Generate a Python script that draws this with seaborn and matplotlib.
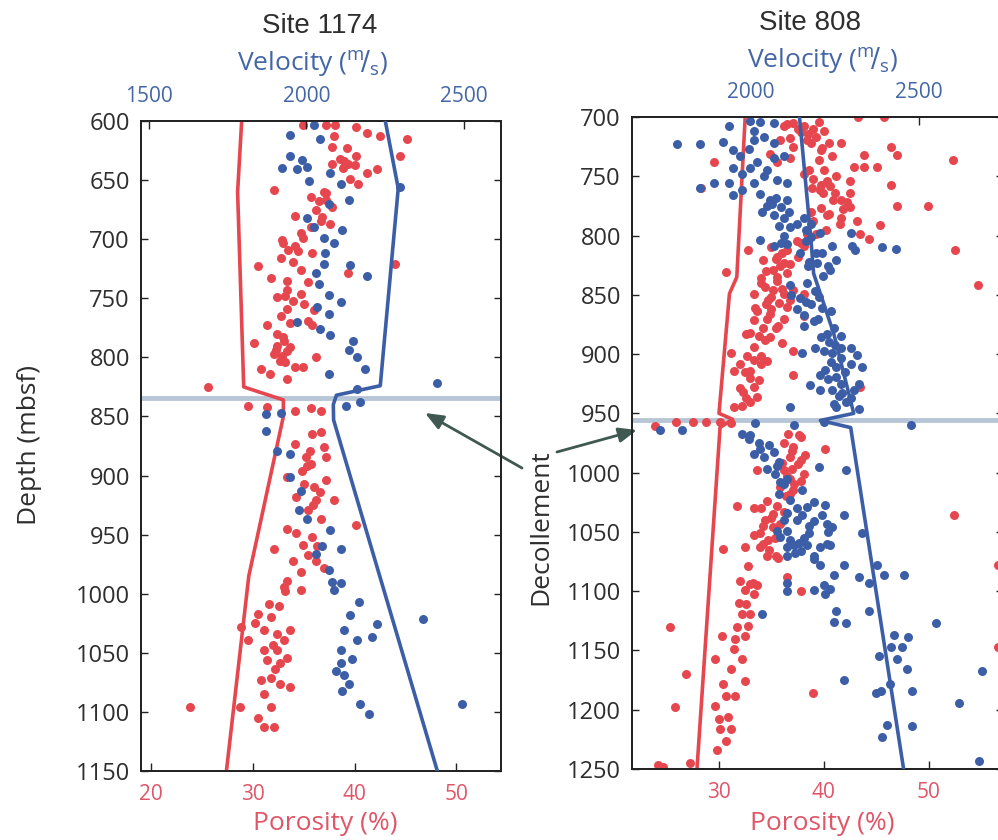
import matplotlib
matplotlib.use("Agg")
import matplotlib.pyplot as plt
import seaborn as sns
import pandas as pd

# ---------------- data ----------------
# Site 1174 porosity samples (depth mbsf, porosity %)
site1174_porosity = [
    (603, 34.9), (603, 37.2), (603, 38.1), (605, 40.1), (610, 41.2), (613, 42.5), (615, 45.2), (613, 38.0),
    (622, 37.8), (623, 39.3), (630, 40.1), (630, 44.5), (636, 37.8), (636, 39.4), (641, 42.2), (644, 41.2),
    (649, 39.6), (653, 40.3), (658, 32.1), (661, 37.2), (664, 35.7), (667, 37.2), (673, 37.8), (680, 34.1),
    (681, 36.8), (690, 35.7), (685, 36.7), (687, 37.6), (695, 34.7), (701, 32.9), (706, 34.1), (699, 34.9),
    (712, 35.8), (719, 33.9), (723, 30.5), (726, 34.7), (733, 31.8), (735, 33.4), (736, 35.4), (721, 44.0),
    (729, 39.4), (743, 33.4), (746, 34.7), (749, 32.4), (755, 35.0), (759, 33.4), (760, 36.0), (773, 31.4),
    (771, 33.7), (769, 35.4), (773, 35.8), (780, 32.4), (786, 33.1), (790, 32.4), (791, 33.7), (788, 30.1),
    (800, 36.2), (797, 32.1), (803, 32.7), (810, 30.8), (814, 31.7), (808, 34.1), (808, 34.9), (818, 33.4),
    (825, 25.6), (841, 29.5), (842, 31.4), (845, 34.1), (843, 35.7), (845, 36.7), (632, 38.6), (640, 38.9),
    (675, 36.2), (710, 34.4), (752, 33.9), (783, 33.0), (795, 33.4), (634, 39.0), (637, 40.0), (703, 33.0),
    (709, 33.5), (716, 32.8), (794, 32.3), (799, 32.9), (804, 33.2), (660, 37.0), (668, 36.5), (748, 33.2),
    (765, 32.8),
    (865, 35.8), (863, 36.7), (873, 34.1), (879, 35.6), (876, 37.0), (884, 35.2), (890, 35.7), (884, 37.2),
    (896, 34.8), (901, 33.4), (904, 37.2), (910, 36.0), (907, 35.0), (914, 36.6), (921, 38.0), (918, 34.2),
    (921, 36.2), (929, 35.4), (937, 36.7), (942, 40.1), (945, 33.4), (949, 34.2), (952, 35.8), (959, 34.9),
    (962, 32.1), (960, 36.3), (967, 35.4), (972, 33.9), (972, 36.2), (978, 37.0), (982, 34.7), (989, 33.4),
    (994, 33.1), (997, 34.7), (1009, 31.6), (1010, 32.6), (1017, 30.5), (1020, 31.8), (1025, 30.2),
    (1028, 28.8), (1031, 31.1), (1034, 32.4), (1031, 33.7), (1039, 29.5), (1039, 33.1), (1048, 31.1),
    (1048, 32.4), (1054, 33.4), (1056, 31.4), (1059, 32.7), (1071, 31.8), (1073, 30.8), (1076, 32.7),
    (1079, 33.7), (1085, 31.1), (1096, 31.8), (1096, 23.8), (1096, 28.7), (1105, 30.5), (1113, 31.1),
    (1113, 32.1), (892, 35.3), (925, 35.9), (998, 33.2), (1043, 32.0), (1064, 32.2),
]
# Site 1174 velocity samples (depth mbsf, velocity m/s)
site1174_velocity = [
    (603, 2023), (612, 1947), (615, 2042), (630, 1949), (633, 1986), (640, 1923), (641, 1970), (639, 2002),
    (644, 2076), (651, 2009), (653, 2110), (656, 2298), (667, 2134), (670, 2071), (682, 2002), (690, 2023),
    (692, 2113), (699, 2055), (703, 2087), (712, 2060), (721, 2055), (722, 2137), (731, 2192), (729, 2029),
    (738, 2040), (747, 2071), (753, 2108), (757, 2034), (763, 2071), (770, 1970), (776, 2044), (781, 2076),
    (786, 2147), (794, 2134), (800, 2159), (810, 2187), (814, 2071), (822, 2414), (827, 2161), (838, 2171),
    (841, 2124), (848, 1870), (847, 1918),
    (862, 1870), (879, 1907), (882, 1949), (901, 1949), (913, 1981), (929, 1976), (937, 2002), (946, 2076),
    (962, 2108), (960, 2050), (966, 2029), (980, 2071), (990, 2081), (991, 2108), (997, 2087), (1007, 2166),
    (1018, 2139), (1021, 2371), (1031, 2118), (1026, 2224), (1039, 2161), (1037, 2208), (1048, 2108),
    (1055, 2145), (1059, 2108), (1065, 2092), (1069, 2118), (1076, 2134), (1082, 2113), (1093, 2171),
    (1102, 2197), (1093, 2493),
]
# Site 1174 trend lines
site1174_por_trend_depth = [600, 660, 825, 829, 836, 850, 985, 1150]
site1174_por_trend = [28.9, 28.5, 29.1, 30.5, 33.0, 33.0, 29.6, 27.4]
site1174_vel_trend_depth = [600, 657, 824, 832, 840, 853, 1150]
site1174_vel_trend = [2250, 2291, 2234, 2095, 2085, 2086, 2415]
site1174_decollement = 834

# Site 808 porosity samples
site808_porosity = [
    (700, 43.3), (700, 45.7), (708, 36.2), (705, 37.1), (708, 38.1), (710, 39.0), (717, 39.3), (719, 38.4),
    (722, 40.5), (722, 41.6), (728, 39.7), (725, 37.1), (719, 35.8), (735, 36.8), (725, 46.4), (732, 47.0),
    (732, 43.8), (736, 52.3), (738, 29.5), (736, 39.5), (733, 40.8), (731, 34.9), (738, 35.5), (742, 42.9),
    (742, 43.8), (742, 45.1), (757, 46.4), (748, 38.1), (752, 39.0), (757, 39.7), (754, 40.3), (764, 41.1),
    (754, 42.5), (764, 42.5), (775, 47.0), (775, 49.9), (760, 28.3), (776, 42.5), (770, 41.6), (777, 39.7),
    (782, 40.5), (785, 41.6), (788, 43.2), (799, 43.5), (791, 45.4), (803, 44.3), (788, 39.0), (799, 38.4),
    (799, 39.3), (805, 37.4), (809, 38.1), (812, 52.5), (842, 54.7), (812, 32.8), (812, 36.5), (818, 35.5),
    (821, 34.2), (823, 36.2), (829, 35.2), (832, 36.5), (831, 30.7), (838, 35.5), (843, 34.4), (846, 35.2),
    (849, 36.2), (849, 33.3), (846, 37.1), (854, 34.7), (857, 35.7), (854, 36.8), (849, 38.1), (861, 33.4),
    (866, 34.9), (871, 33.3), (870, 36.2), (868, 38.1), (878, 35.4), (878, 34.2), (883, 32.6), (888, 34.4),
    (891, 36.0), (894, 33.3), (899, 31.1), (897, 37.1), (908, 32.0), (905, 33.3), (906, 34.6), (914, 31.4),
    (914, 33.0), (918, 37.1), (929, 32.0), (928, 33.3), (928, 43.5), (937, 32.6), (936, 33.6), (945, 31.4),
    (944, 32.2), (713, 37.8), (745, 38.6), (762, 39.6), (780, 38.8), (795, 40.2), (826, 35.8), (836, 34.0),
    (862, 35.0), (885, 33.8), (902, 34.0), (920, 33.0),
    (706, 36.5), (710, 37.5), (714, 38.5), (704, 39.5), (712, 40.0), (718, 36.8), (722, 38.8), (726, 39.8),
    (745, 40.0), (750, 41.2), (758, 40.6), (764, 39.9), (770, 40.9), (778, 41.8), (783, 40.3), (790, 41.5),
    (772, 42.2), (760, 38.9), (810, 35.0), (815, 36.0), (820, 35.4), (824, 36.8), (818, 37.5), (806, 37.8),
    (830, 34.5), (835, 35.5), (840, 34.0), (845, 36.0), (852, 35.0), (858, 34.5), (864, 33.6), (870, 34.6),
    (876, 35.6), (882, 33.0), (886, 34.9), (860, 36.5), (902, 32.7), (908, 34.0), (915, 32.5), (922, 33.8),
    (932, 32.3), (940, 33.0),
    (961, 23.9), (957, 25.9), (957, 27.5), (957, 28.8), (957, 30.1), (958, 31.1), (967, 36.6), (968, 37.6),
    (975, 36.2), (978, 37.1), (985, 38.2), (980, 40.1), (987, 36.8), (989, 37.8), (998, 33.6), (998, 36.2),
    (997, 37.0), (1001, 38.1), (1005, 36.8), (1007, 37.8), (1012, 35.8), (1015, 37.1), (1028, 31.7),
    (1030, 33.3), (1024, 34.6), (1028, 35.5), (1035, 35.2), (1033, 36.2), (1040, 34.4), (1046, 35.2),
    (1051, 33.9), (1053, 33.3), (1057, 34.7), (1063, 33.9), (1063, 32.5), (1064, 30.4), (1070, 34.6),
    (1070, 35.4), (1088, 36.5), (1079, 32.8), (1091, 32.0), (1094, 33.0), (1095, 33.6), (1099, 32.5),
    (1102, 33.3), (1100, 37.8), (1110, 31.9), (1111, 32.6), (1119, 32.2), (1119, 33.0), (1130, 31.7),
    (1129, 32.8), (1130, 25.3), (1138, 30.3), (1140, 31.5), (1138, 32.5), (1149, 31.4), (1157, 32.2),
    (1157, 29.6), (1166, 31.1), (1170, 26.9), (1178, 30.4), (1176, 32.5), (1188, 30.7), (1188, 31.5),
    (1186, 39.0), (1198, 25.8), (1197, 29.6), (1208, 30.0), (1206, 30.9), (1216, 30.1), (1216, 31.1),
    (1226, 30.7), (1234, 29.8), (1245, 27.2), (1247, 24.2), (1248, 24.7), (1036, 52.4), (1078, 56.6),
    (1147, 56.6), (992, 36.0), (1020, 36.4), (1043, 35.8), (1060, 34.2), (1093, 33.2),
    (970, 37.8), (982, 37.0), (993, 37.5), (1003, 36.5), (1010, 37.2), (1018, 36.8), (1030, 34.0),
    (1038, 35.0), (1045, 34.2), (1055, 35.3), (1065, 34.8), (1072, 35.6),
]
# Site 808 velocity samples
site808_velocity = [
    (723, 1782), (723, 1851), (708, 1938), (721, 1918), (728, 1950), (733, 1970), (703, 2000), (704, 2030),
    (705, 2069), (717, 2040), (719, 2010), (722, 2069), (743, 1950), (748, 1975), (743, 2000), (756, 1936),
    (756, 1891), (760, 1851), (766, 1950), (762, 1975), (756, 2010), (765, 2030), (745, 2050), (735, 2069),
    (733, 2099), (753, 2079), (756, 2109), (770, 2109), (773, 2064), (780, 2035), (785, 2099), (780, 2114),
    (793, 2119), (785, 2159), (795, 2164), (801, 2179), (798, 2208), (804, 2030), (809, 2069), (807, 2109),
    (815, 2149), (815, 2213), (809, 2243), (798, 2298), (809, 2303), (812, 2312), (810, 2392), (811, 2432),
    (821, 2253), (829, 2238), (823, 2198), (847, 2193), (840, 2169), (842, 2119), (853, 2149), (852, 2203),
    (861, 2213), (867, 2159), (872, 2188), (878, 2248), (883, 2228), (885, 2268), (895, 2193), (897, 2218),
    (899, 2154), (899, 2243), (895, 2268), (895, 2298), (901, 2317), (911, 2332), (908, 2298), (911, 2253),
    (913, 2223), (918, 2208), (919, 2253), (925, 2268), (926, 2178), (930, 2208), (930, 2243), (933, 2273),
    (937, 2298), (942, 2248), (930, 2307), (925, 2322), (945, 2119), (945, 2253), (946, 2322), (712, 2012),
    (727, 1995), (738, 2020), (750, 2040), (768, 2075), (776, 2090), (790, 2140), (826, 2170), (834, 2215),
    (858, 2180), (864, 2240), (890, 2235),
    (775, 2050), (783, 2070), (792, 2085), (800, 2100), (806, 2090), (770, 2060), (790, 2180), (805, 2165),
    (815, 2195), (822, 2175), (826, 2230), (850, 2120), (856, 2165), (862, 2140), (870, 2200), (876, 2160),
    (886, 2210), (892, 2250), (903, 2270), (907, 2240), (915, 2280), (921, 2230), (935, 2262), (940, 2285),
    (964, 1732), (964, 1797), (958, 2015), (960, 2129), (957, 2218), (960, 2476), (967, 1975), (968, 2000),
    (975, 2025), (977, 2055), (984, 2010), (987, 2040), (983, 2069), (991, 2084), (997, 2050), (1001, 2074),
    (995, 2203), (998, 2283), (1008, 2089), (1005, 2109), (1015, 2154), (1018, 2084), (1023, 2119),
    (1025, 2188), (1029, 2168), (1027, 2223), (1036, 2154), (1036, 2213), (1036, 2278), (1034, 2109),
    (1040, 2099), (1040, 2139), (1041, 2188), (1043, 2228), (1046, 2243), (1049, 2079), (1049, 2109),
    (1051, 2173), (1051, 2332), (1054, 2089), (1057, 2119), (1059, 2144), (1060, 2228), (1063, 2109),
    (1061, 2129), (1061, 2168), (1063, 2208), (1061, 2238), (1070, 2109), (1068, 2134), (1070, 2188),
    (1078, 2208), (1078, 2278), (1078, 2377), (1088, 2322), (1086, 2397), (1086, 2456), (1086, 2248),
    (1093, 2109), (1093, 2352), (1099, 2188), (1095, 2218), (1098, 2238), (1100, 2109), (1102, 2223),
    (1119, 2035), (1117, 2253), (1117, 2352), (1126, 2248), (1127, 2283), (1127, 2551), (1137, 2427),
    (1139, 2467), (1147, 2417), (1147, 2451), (1155, 2382), (1157, 2436), (1166, 2466), (1167, 2689),
    (1175, 2278), (1178, 2416), (1186, 2372), (1184, 2387), (1184, 2481), (1194, 2620), (1213, 2406),
    (1214, 2481), (1223, 2392), (1243, 2680),
    (972, 1995), (980, 2030), (994, 2080), (1010, 2100), (1030, 2140), (1045, 2175), (1055, 2160),
    (1066, 2150), (1073, 2190), (1050, 2230),
]
site808_por_trend_depth = [700, 835, 849, 950, 955, 962, 1250]
site808_por_trend = [32.5, 31.7, 31.0, 30.0, 31.3, 30.1, 27.9]
site808_vel_trend_depth = [700, 800, 832, 883, 950, 956, 962, 1250]
site808_vel_trend = [2146, 2179, 2188, 2248, 2307, 2208, 2298, 2455]
site808_decollement = 956

# ---------------- style ----------------
RED = "#e6464e"
BLUE = "#3c5ea7"
RED_TXT = "#e05568"
BLUE_TXT = "#4466a6"
DARK = "#2e2e2e"
ARROW = "#3f5851"
DEC = "#b7c6d6"

sns.set_style("white")
plt.rcParams["font.family"] = ["Liberation Sans", "DejaVu Sans"]
TICKFONT = "Open Sans"

fig = plt.figure(figsize=(9.98, 8.4), dpi=100)
W, H = 998.0, 840.0


def px_axes(x0, y0, x1, y1):
    return fig.add_axes([x0 / W, 1 - y1 / H, (x1 - x0) / W, (y1 - y0) / H])


def build_panel(ax, por, vel, por_tr_d, por_tr, vel_tr_d, vel_tr, dec,
                ylim, yticks, plim, pticks, vlim, vticks):
    axv = ax.twiny()
    dfp = pd.DataFrame(por, columns=["depth", "porosity"])
    dfv = pd.DataFrame(vel, columns=["depth", "velocity"])
    ax.axhline(dec, color=DEC, lw=3.5, zorder=1)
    sns.lineplot(x=vel_tr, y=vel_tr_d, sort=False, estimator=None, ax=axv,
                 color=BLUE, lw=2.6, zorder=3)
    sns.scatterplot(data=dfv, x="velocity", y="depth", ax=axv, color=BLUE,
                    s=42, linewidth=0, zorder=2)
    sns.scatterplot(data=dfp, x="porosity", y="depth", ax=ax, color=RED,
                    s=42, linewidth=0, zorder=2)
    sns.lineplot(x=por_tr, y=por_tr_d, sort=False, estimator=None, ax=ax,
                 color=RED, lw=2.6, zorder=3)
    ax.set_ylim(*ylim)
    ax.set_yticks(yticks)
    ax.set_xlim(*plim)
    ax.set_xticks(pticks)
    axv.set_xlim(*vlim)
    axv.set_xticks(vticks)
    axv.set_ylim(*ylim)
    for a in (ax, axv):
        a.set_xlabel("")
        a.set_ylabel("")
        for sp in a.spines.values():
            sp.set_visible(True)
            sp.set_color("#222222")
            sp.set_linewidth(1.3)
    ax.tick_params(axis="y", direction="in", length=5, width=1, left=True, right=True,
                   labelleft=True, colors="#222222", labelcolor=DARK, labelsize=17, pad=8)
    ax.tick_params(axis="x", direction="in", length=6, width=1, bottom=True, top=False,
                   labelcolor=RED_TXT, colors="#222222", labelsize=15, pad=9)
    axv.tick_params(axis="x", direction="in", length=6, width=1, top=True, bottom=False,
                    labelcolor=BLUE_TXT, colors="#222222", labelsize=15, pad=10)
    for lab in ax.get_yticklabels() + ax.get_xticklabels() + axv.get_xticklabels():
        lab.set_fontfamily(TICKFONT)
    return axv


ax1 = px_axes(141, 121, 501, 771)
ax1v = build_panel(ax1, site1174_porosity, site1174_velocity,
                   site1174_por_trend_depth, site1174_por_trend,
                   site1174_vel_trend_depth, site1174_vel_trend, site1174_decollement,
                   (1150, 600), list(range(600, 1151, 50)), (19.0, 54.4), [20, 30, 40, 50],
                   (1475, 2617), [1500, 2000, 2500])

ax2 = px_axes(632, 117, 1003, 769)
ax2v = build_panel(ax2, site808_porosity, site808_velocity,
                   site808_por_trend_depth, site808_por_trend,
                   site808_vel_trend_depth, site808_vel_trend, site808_decollement,
                   (1250, 700), list(range(700, 1251, 50)), (21.7, 57.1), [30, 40, 50],
                   (1649, 2750), [2000, 2500])

# titles and labels
fig.text(320 / W, 1 - 26 / H, "Site 1174", ha="center", va="center", fontsize=20, color=DARK)
fig.text(810 / W, 1 - 23 / H, "Site 808", ha="center", va="center", fontsize=20, color=DARK)
vel_label = r"Velocity ($^{\mathregular{m}}\!/_{\mathregular{s}}$)"
fig.text(312 / W, 1 - 64 / H, vel_label, ha="center", va="center", fontsize=19,
         color=BLUE_TXT, fontfamily=TICKFONT)
fig.text(822 / W, 1 - 61 / H, vel_label, ha="center", va="center", fontsize=19,
         color=BLUE_TXT, fontfamily=TICKFONT)
fig.text(325 / W, 1 - 823 / H, "Porosity (%)", ha="center", va="center", fontsize=19,
         color=RED_TXT, fontfamily=TICKFONT)
fig.text(822 / W, 1 - 824 / H, "Porosity (%)", ha="center", va="center", fontsize=19,
         color=RED_TXT, fontfamily=TICKFONT)
fig.text(30 / W, 1 - 445 / H, "Depth (mbsf)", ha="center", va="center", fontsize=19,
         rotation=90, color=DARK, fontfamily=TICKFONT)
fig.text(541 / W, 1 - 527 / H, "Decollement", ha="center", va="center", fontsize=19,
         rotation=90, color=DARK, fontfamily=TICKFONT)

# arrows
arrow_kw = dict(arrowstyle="-|>,head_length=1.1,head_width=0.45", color=ARROW, lw=2,
                shrinkA=0, shrinkB=0)
ax1.annotate("", xy=(425 / W, 1 - 413 / H), xycoords="figure fraction",
             xytext=(522 / W, 1 - 468 / H), textcoords="figure fraction",
             arrowprops=arrow_kw, annotation_clip=False)
ax2.annotate("", xy=(637 / W, 1 - 430 / H), xycoords="figure fraction",
             xytext=(557 / W, 1 - 452 / H), textcoords="figure fraction",
             arrowprops=arrow_kw, annotation_clip=False)

fig.savefig("out.png", dpi=100)
